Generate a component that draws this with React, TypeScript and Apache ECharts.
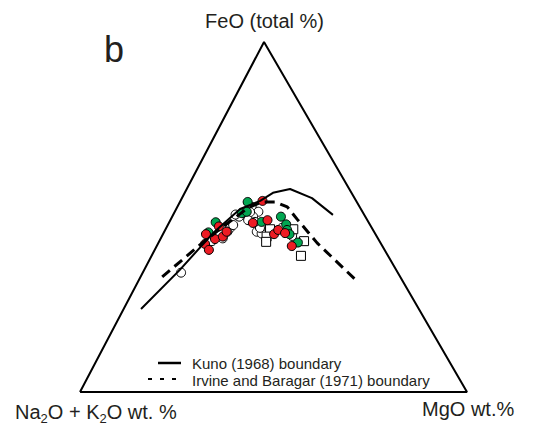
import React, { useEffect, useRef } from 'react';
import * as echarts from 'echarts';

// Ternary data as [FeO %, MgO %]; Na2O + K2O = 100 - FeO - MgO
const APEX_SHIFT = 0.4755; // horizontal position of the FeO apex on the base (drawing is slightly skewed)

const triangleVertices = [[0, 0], [0, 100], [100, 0], [0, 0]];

const kunoBoundary = [
  [23.7, 4.5], [34.9, 9.2], [45.4, 12.8], [52.3, 16.5], [54.6, 20.6],
  [56.9, 22.8], [58.0, 26.7], [55.4, 33.6], [50.6, 41.3],
];

const irvineBoundary = [
  [32.9, 5.6], [42.0, 11.0], [47.7, 14.8], [52.6, 18.4], [54.3, 21.2],
  [54.3, 24.6], [52.9, 28.4], [49.4, 32.6], [42.6, 41.0], [31.4, 56.9],
];

const openCircleSamples = [
  [34.1, 9.9], [43.9, 16.0], [46.8, 16.5], [47.7, 16.9], [45.8, 16.3],
  [50.1, 17.3], [52.9, 19.2], [51.5, 21.6], [50.1, 20.9], [45.8, 23.9],
  [45.3, 25.4], [46.9, 24.2], [50.7, 16.1], [44.6, 33.6], [46.9, 29.9],
  [43.1, 13.6], [51.4, 19.5], [48.6, 22.1], [49.1, 20.1],
];

const squareSamples = [
  [46.5, 27.0], [44.4, 27.1], [42.9, 27.7], [46.5, 33.0], [43.1, 37.4], [38.9, 38.6],
];

const greenSamples = [
  [45.6, 11.5], [48.5, 12.0], [51.1, 17.5], [51.5, 18.6], [54.3, 17.5],
  [48.6, 23.8], [50.1, 28.1], [47.9, 30.5], [42.7, 36.0], [46.3, 31.5], [45.1, 32.7],
];

const redSamples = [
  [42.3, 12.2], [40.6, 14.0], [45.1, 11.1], [43.7, 14.1], [47.3, 13.4],
  [44.4, 15.8], [45.8, 16.1], [48.3, 21.7], [54.6, 21.2], [49.1, 25.1],
  [45.1, 28.7], [46.3, 29.2], [41.7, 34.9], [45.4, 31.4],
];

const toXY = (p: number[]) => [p[1] + p[0] * APEX_SHIFT, p[0]];

const FONT = 'Liberation Sans, Arial, sans-serif';
const INK = '#231f20';

export default function App() {
  const ref = useRef<HTMLDivElement>(null);
  useEffect(() => {
    if (!ref.current) return;
    const chart = echarts.init(ref.current, undefined, { renderer: 'svg' });
    const scatter = (name: string, data: number[][], symbol: string, fill: string) => ({
      name,
      type: 'scatter',
      data: data.map(toXY),
      symbol,
      symbolSize: 9,
      itemStyle: { color: fill, borderColor: '#000', borderWidth: 1, opacity: 1 },
      clip: false,
    });
    chart.setOption({
      animation: false,
      grid: { left: 80, right: 72, top: 42, bottom: 43 },
      xAxis: { type: 'value', min: 0, max: 100, show: false },
      yAxis: { type: 'value', min: 0, max: 100, show: false },
      series: [
        {
          type: 'line', data: triangleVertices.map(toXY), symbol: 'none', clip: false,
          lineStyle: { color: '#000', width: 2 },
        },
        {
          name: 'Kuno (1968) boundary', type: 'line', data: kunoBoundary.map(toXY), symbol: 'none', clip: false,
          lineStyle: { color: '#000', width: 2 },
        },
        {
          name: 'Irvine and Baragar (1971) boundary', type: 'line', data: irvineBoundary.map(toXY), symbol: 'none', clip: false,
          lineStyle: { color: '#000', width: 3, type: [10, 6] },
        },
        scatter('open', openCircleSamples, 'circle', '#ffffff'),
        scatter('square', squareSamples, 'rect', '#ffffff'),
        scatter('green', greenSamples, 'circle', '#00a651'),
        scatter('red', redSamples, 'circle', '#ed1c24'),
      ],
      graphic: [
        { type: 'text', x: 264.5, y: 21, style: { text: 'FeO (total %)', font: `20px ${FONT}`, fill: INK, align: 'center', verticalAlign: 'middle' } },
        { type: 'text', x: 114, y: 49, style: { text: 'b', font: `36px ${FONT}`, fill: INK, align: 'center', verticalAlign: 'middle' } },
        {
          type: 'text', x: 15, y: 412,
          style: {
            text: '{n|Na}{s|2}{n|O + K}{s|2}{n|O wt. %}',
            verticalAlign: 'middle', align: 'left',
            rich: {
              n: { fontSize: 20, fontFamily: FONT, fill: INK, lineHeight: 26, verticalAlign: 'middle' },
              s: { fontSize: 13, fontFamily: FONT, fill: INK, lineHeight: 14, verticalAlign: 'bottom' },
            },
          },
        },
        { type: 'text', x: 422, y: 409, style: { text: 'MgO wt.%', font: `20px ${FONT}`, fill: INK, align: 'left', verticalAlign: 'middle' } },
        { type: 'line', shape: { x1: 158, y1: 363, x2: 181, y2: 363 }, style: { stroke: '#000', lineWidth: 2.5 } },
        { type: 'line', shape: { x1: 148, y1: 379, x2: 178, y2: 379 }, style: { stroke: '#000', lineWidth: 2, lineDash: [4, 8] } },
        { type: 'text', x: 192, y: 363, style: { text: 'Kuno (1968) boundary', font: `15px ${FONT}`, fill: INK, align: 'left', verticalAlign: 'middle' } },
        { type: 'text', x: 192, y: 380, style: { text: 'Irvine and Baragar (1971) boundary', font: `15px ${FONT}`, fill: INK, align: 'left', verticalAlign: 'middle' } },
      ],
    });
    return () => chart.dispose();
  }, []);
  return <div ref={ref} style={{ position: 'fixed', left: 0, top: 0, width: 539, height: 435, background: '#fff' }} />;
}
